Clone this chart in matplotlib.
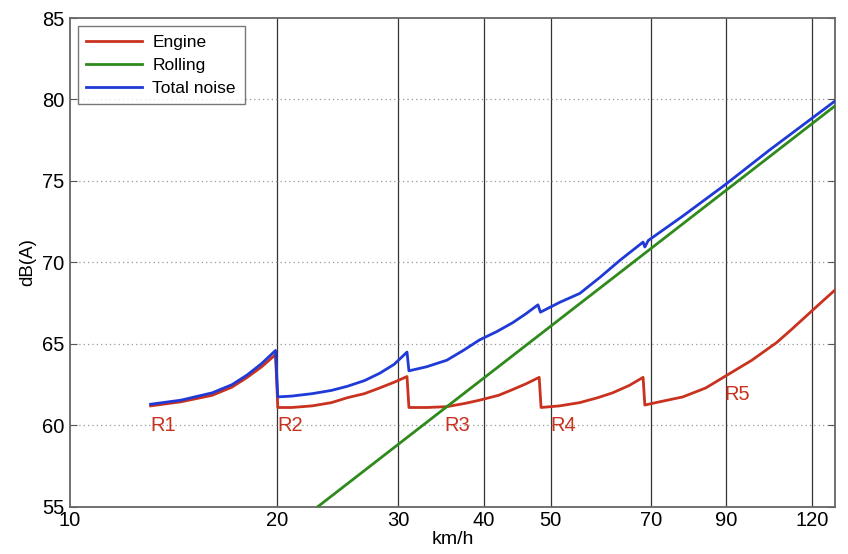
import matplotlib
matplotlib.use("Agg")
import matplotlib.pyplot as plt
from matplotlib.ticker import FixedLocator, FixedFormatter, NullLocator

plt.rcParams['font.family'] = ['Liberation Sans', 'DejaVu Sans']

# engine noise, one gear after the other (vertical drops at gear changes)
engine_speed = [13.1, 14.5, 16.1, 17.2, 18.1, 19.0, 19.9,
                20.05, 21.0, 22.5, 24.0, 25.3, 26.8, 28.2, 29.6, 30.9,
                31.1, 33.0, 35.3, 37.5, 39.4, 42.0, 44.0, 46.0, 48.1,
                48.4, 51.5, 55.1, 58.5, 61.5, 65.0, 68.1,
                68.5, 72.0, 77.8, 84.0, 89.5, 98.0, 106.6, 112.0, 118.2, 124.0, 129.4]
engine_db = [61.2, 61.45, 61.85, 62.35, 62.95, 63.6, 64.35,
             61.1, 61.1, 61.2, 61.4, 61.7, 61.95, 62.3, 62.65, 63.0,
             61.1, 61.1, 61.15, 61.35, 61.55, 61.85, 62.2, 62.55, 62.95,
             61.1, 61.2, 61.4, 61.7, 62.0, 62.45, 62.95,
             61.25, 61.45, 61.75, 62.3, 63.0, 64.0, 65.1, 65.9, 66.8, 67.6, 68.3]

rolling_speed = [22.9, 129.4]
rolling_db = [55.0, 79.6]

total_speed = [13.1, 14.5, 16.1, 17.2, 18.1, 19.0, 19.9,
               20.05, 21.0, 22.5, 24.0, 25.3, 26.8, 28.2, 29.6, 30.9,
               31.1, 33.0, 35.3, 37.3, 39.4, 41.7, 44.0, 46.0, 47.9,
               48.3, 51.5, 55.1, 59.0, 63.1, 68.1,
               68.5, 69.3, 77.8, 89.5, 104.0, 129.4]
total_db = [61.3, 61.55, 62.0, 62.5, 63.1, 63.8, 64.6,
            61.75, 61.8, 61.95, 62.15, 62.4, 62.75, 63.2, 63.75, 64.5,
            63.35, 63.6, 64.0, 64.6, 65.25, 65.75, 66.3, 66.85, 67.4,
            66.95, 67.55, 68.1, 69.1, 70.15, 71.25,
            70.95, 71.35, 72.85, 74.75, 76.9, 79.9]

gear_labels = ['R1', 'R2', 'R3', 'R4', 'R5']
gear_label_speed = [13.1, 20.05, 35.0, 49.9, 89.5]
gear_label_db = [60.0, 60.0, 60.0, 60.0, 61.9]

xticks = [10, 20, 30, 40, 50, 70, 90, 120]
yticks = [55, 60, 65, 70, 75, 80, 85]

red = '#c8321f'
green = '#2f8a1c'
blue = '#1f3ad6'

fig = plt.figure(figsize=(8.48, 5.54), dpi=100)
ax = fig.add_axes([0.0825, 0.085, 0.902, 0.8825])

ax.set_xscale('log')
ax.set_xlim(10, 129.4)
ax.set_ylim(55, 85)

# vertical solid grid lines, horizontal dotted
for v in xticks[1:]:
    ax.axvline(v, color='#333333', lw=0.9, zorder=1)
for d in yticks[1:-1]:
    ax.axhline(d, color='#999999', lw=0.9, ls=(0, (1, 2.5)), zorder=1)

ax.plot(engine_speed, engine_db, color=red, lw=2.0, label='Engine', zorder=3)
ax.plot(rolling_speed, rolling_db, color=green, lw=2.0, label='Rolling', zorder=3)
ax.plot(total_speed, total_db, color=blue, lw=2.0, label='Total noise', zorder=4)

for lab, s, d in zip(gear_labels, gear_label_speed, gear_label_db):
    ax.text(s, d, lab, color=red, fontsize=14.5, ha='left', va='center', zorder=5)

ax.xaxis.set_major_locator(FixedLocator(xticks))
ax.xaxis.set_major_formatter(FixedFormatter([str(t) for t in xticks]))
ax.xaxis.set_minor_locator(NullLocator())
ax.set_yticks(yticks)
ax.tick_params(axis='both', direction='in', labelsize=14.5, length=5,
               color='#555555')
ax.tick_params(axis='x', length=0, pad=3)
ax.tick_params(axis='y', right=True, pad=4)

for sp in ax.spines.values():
    sp.set_color('#666666')
    sp.set_linewidth(1.3)

ax.set_xlabel('km/h', fontsize=14, labelpad=1)
ax.set_ylabel('dB(A)', fontsize=13.5, labelpad=4)

leg = ax.legend(loc='upper left', fontsize=12.5, handlelength=3.2,
                handletextpad=0.6, frameon=True, fancybox=False,
                edgecolor='#555555', borderaxespad=0.45, labelspacing=0.45,
                borderpad=0.5)
leg.get_frame().set_linewidth(1.0)

fig.savefig('out.png', dpi=100)
